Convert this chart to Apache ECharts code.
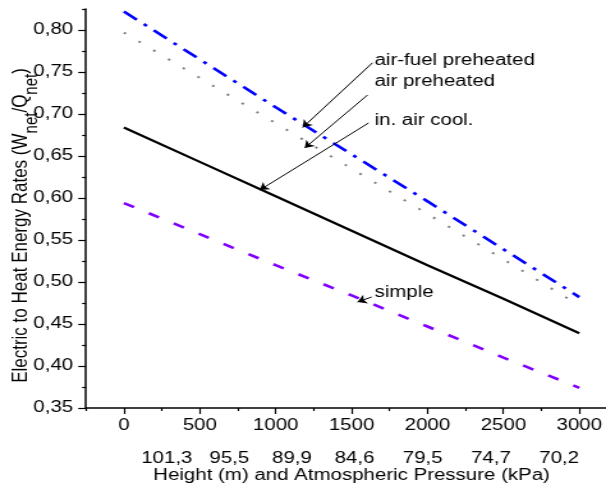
<!DOCTYPE html>
<html>
<head>
<meta charset="utf-8">
<script src="https://cdn.jsdelivr.net/npm/echarts@6/dist/echarts.min.js"></script>
<style>
  html, body { margin: 0; padding: 0; background: #fff; overflow: hidden; }
  /* the original figure is stretched sideways, so draw narrow and widen it */
  #chart { width: 474px; height: 490px; transform: scaleX(1.2785); transform-origin: 0 0; }
</style>
</head>
<body>
<div id="chart"></div>
<script>
const heights = [0, 500, 1000, 1500, 2000, 2500, 3000];
const airFuelPreheated = [0.822, 0.765, 0.708, 0.652, 0.596, 0.539, 0.482];
const airPreheated = [0.797, 0.743, 0.689, 0.635, 0.581, 0.527, 0.472];
const inletAirCooling = [0.684, 0.643, 0.602, 0.561, 0.520, 0.480, 0.439];
const simpleCycle = [0.594, 0.557, 0.520, 0.484, 0.447, 0.410, 0.374];

const xTicks = [0, 500, 1000, 1500, 2000, 2500, 3000];
const xMinorTicks = [-250, 250, 750, 1250, 1750, 2250, 2750, 3250];
const yTicks = [0.35, 0.40, 0.45, 0.50, 0.55, 0.60, 0.65, 0.70, 0.75, 0.80];
const yMinorTicks = [0.375, 0.425, 0.475, 0.525, 0.575, 0.625, 0.675, 0.725, 0.775, 0.825];
const pressureLabels = ["101,3", "95,5", "89,9", "84,6", "79,5", "74,7", "70,2"];

const FONT = "Liberation Sans, Arial, sans-serif";

function sp(n) {
    return " ".repeat(n);
}

const pressureLine =
    sp(3) + pressureLabels[0] + sp(3) + pressureLabels[1] + sp(4) + pressureLabels[2] + sp(4) +
    pressureLabels[3] + sp(5) + pressureLabels[4] + sp(5) + pressureLabels[5] + sp(5) + pressureLabels[6];

function pairs(values) {
    return heights.map((h, i) => [h, values[i]]);
}

function note(text, at, from, to) {
    return {
        markPoint: {
            silent: true,
            symbol: "circle",
            symbolSize: 0,
            data: [{ coord: at, value: text }],
            label: {
                show: true,
                position: "right",
                distance: 0,
                formatter: "{c}",
                color: "#000",
                fontSize: 16,
                fontFamily: FONT
            }
        },
        markLine: {
            silent: true,
            animation: false,
            symbol: ["none", "arrow"],
            symbolSize: 7,
            lineStyle: { color: "#000", width: 1, type: "solid" },
            label: { show: false },
            emphasis: { disabled: true },
            data: [[{ coord: from }, { coord: to }]]
        }
    };
}

const chart = echarts.init(document.getElementById("chart"));

const fmt = v => v.toFixed(2).replace(".", ",");

chart.setOption({
    animation: false,
    grid: { left: 67.2, top: 9, width: 415.6, height: 399, outerBoundsMode: "none", containLabel: false },
    xAxis: [
        {
            type: "value",
            min: -250,
            max: 3250,
            interval: 250,
            axisLine: { show: true, onZero: false, lineStyle: { color: "#000", width: 1.5 } },
            axisTick: { show: true, length: 6, customValues: xTicks, lineStyle: { color: "#000", width: 1.2 } },
            axisLabel: {
                customValues: xTicks,
                formatter: v => String(v),
                margin: 10,
                color: "#000",
                fontSize: 16,
                fontFamily: FONT
            },
            splitLine: { show: false },
            name: pressureLine + "\nHeight (m) and Atmospheric Pressure (kPa)",
            nameLocation: "middle",
            nameGap: 42,
            nameMoveOverlap: false,
            nameTextStyle: { color: "#000", fontSize: 16, lineHeight: 17, fontFamily: FONT }
        },
        {
            type: "value",
            min: -250,
            max: 3250,
            interval: 250,
            position: "bottom",
            axisLine: { show: false, onZero: false },
            axisTick: { show: true, length: 3, customValues: xMinorTicks, lineStyle: { color: "#000", width: 1.2 } },
            axisLabel: { show: false },
            splitLine: { show: false }
        }
    ],
    yAxis: [
        {
            type: "value",
            min: 0.35,
            max: 0.825,
            interval: 0.05,
            axisLine: { show: true, onZero: false, lineStyle: { color: "#000", width: 1.5 } },
            axisTick: { show: true, length: 6, customValues: yTicks, lineStyle: { color: "#000", width: 1.2 } },
            axisLabel: {
                customValues: yTicks,
                formatter: fmt,
                margin: 10,
                color: "#000",
                fontSize: 16,
                fontFamily: FONT
            },
            splitLine: { show: false },
            name: "{m|Electric to Heat Energy Rates (W}{s|net}{m|/Q}{s|net}{m|)}",
            nameLocation: "middle",
            nameGap: 35,
            nameMoveOverlap: false,
            nameTextStyle: {
                padding: [0, 34, 0, 0],
                rich: {
                    m: { fontSize: 17, lineHeight: 16, verticalAlign: "top", color: "#000", fontFamily: FONT },
                    s: { fontSize: 15, lineHeight: 24, verticalAlign: "bottom", color: "#000", fontFamily: FONT }
                }
            }
        },
        {
            type: "value",
            min: 0.35,
            max: 0.825,
            interval: 0.05,
            position: "left",
            axisLine: { show: false, onZero: false },
            axisTick: { show: true, length: 3, customValues: yMinorTicks, lineStyle: { color: "#000", width: 1.2 } },
            axisLabel: { show: false },
            splitLine: { show: false }
        }
    ],
    series: [
        Object.assign({
            name: "air-fuel preheated",
            type: "line",
            data: pairs(airFuelPreheated),
            showSymbol: false,
            lineStyle: { color: "#0000ff", width: 2.6, type: [13, 7, 3, 7] }
        }, note("air-fuel preheated", [1651, 0.764], [1638, 0.761], [1178, 0.684])),
        Object.assign({
            name: "air preheated",
            type: "line",
            data: pairs(airPreheated),
            showSymbol: false,
            lineStyle: { color: "#808080", width: 2, type: [2, 12.5] }
        }, note("air preheated", [1651, 0.738], [1605, 0.7226], [1191, 0.6595])),
        Object.assign({
            name: "in. air cool.",
            type: "line",
            data: pairs(inletAirCooling),
            showSymbol: false,
            lineStyle: { color: "#000000", width: 2.2, type: "solid" }
        }, note("in. air cool.", [1651, 0.6917], [1612, 0.6893], [895, 0.6095])),
        Object.assign({
            name: "simple",
            type: "line",
            data: pairs(simpleCycle),
            showSymbol: false,
            lineStyle: { color: "#8000ff", width: 2.6, type: [9, 13] }
        }, note("simple", [1651, 0.4869], [1632, 0.4821], [1539, 0.4762]))
    ]
});
</script>
</body>
</html>
